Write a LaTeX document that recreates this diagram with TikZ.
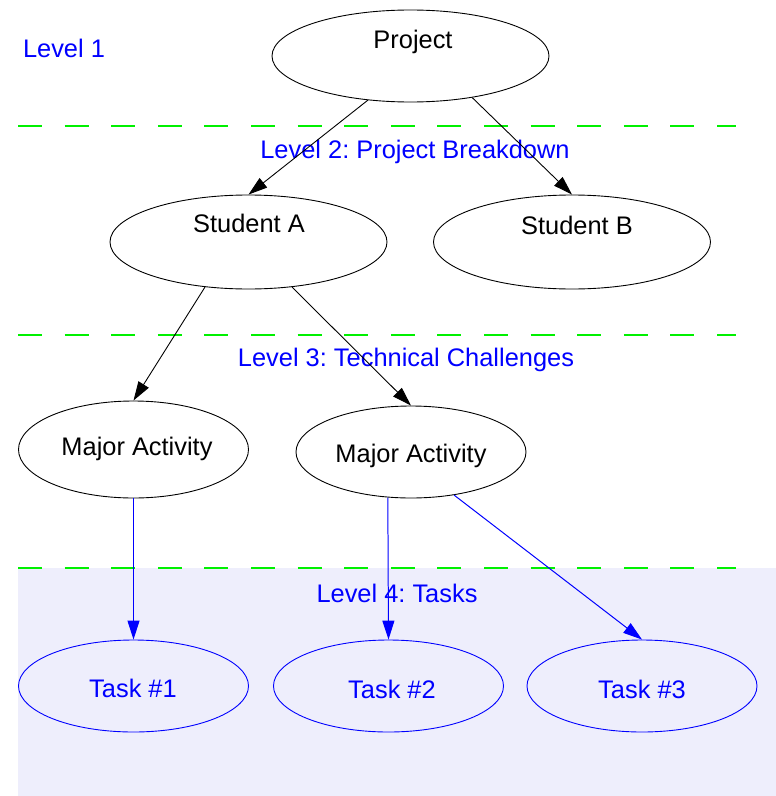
\documentclass[tikz,border=0pt]{standalone}
\usepackage{fontspec}
\setmainfont{Liberation Sans}
\usetikzlibrary{shapes.geometric,arrows.meta}
\definecolor{bandfill}{RGB}{238,238,252}
\definecolor{dashgreen}{RGB}{0,240,0}
\definecolor{lblue}{RGB}{0,0,255}
\frenchspacing
\begin{document}
\begin{tikzpicture}[x=1bp,y=-1bp,
  oval/.style={ellipse,draw,line width=0.9pt,inner sep=0pt,minimum width=#1},
  oval/.default=277bp,
  txt/.style={inner sep=0pt,anchor=base,font=\fontsize{25.5}{29}\selectfont},
  lvl/.style={txt,text=lblue},
  sep/.style={draw=dashgreen,line width=1.3pt,dash pattern=on 24bp off 22.6bp},
  blk/.style={line width=0.9pt,-{Triangle[length=19bp,width=12bp]}},
  blu/.style={blk,color=lblue,line width=1pt}]
\useasboundingbox (0,0) rectangle (776,796);
\fill[bandfill] (18,568) rectangle (776,796);
% separators
\draw[sep] (18,126) -- (736,126);
\draw[sep] (18,335) -- (736,335);
\draw[sep] (18,568) -- (736,568);
% level labels
\node[lvl] (l1) at (64,58) {Level 1};
\node[lvl] (l2) at (415,158) {Level 2: Project Breakdown};
\node[lvl] (l3) at (406,366) {Level 3: Technical Challenges};
\node[lvl] (l4) at (397,602) {Level 4: Tasks};
% ellipses
\node[oval,minimum height=92bp] (p) at (410.5,56) {};
\node[oval,minimum height=94bp] (sa) at (248.5,242) {};
\node[oval,minimum height=94bp] (sb) at (572,242) {};
\node[oval=230bp,minimum height=97bp] (ma1) at (133.5,449.5) {};
\node[oval=230bp,minimum height=92bp] (ma2) at (411,452) {};
\node[oval=230bp,minimum height=92bp,draw=lblue] (t1) at (133.5,686) {};
\node[oval=230bp,minimum height=92bp,draw=lblue] (t2) at (388.5,686) {};
\node[oval=230bp,minimum height=92bp,draw=lblue] (t3) at (642,686) {};
% texts
\node[txt] (pt) at (413,49) {Project};
\node[txt] (sat) at (249,232) {Student A};
\node[txt] (sbt) at (577,234) {Student B};
\node[txt] (ma1t) at (137,455) {Major Activity};
\node[txt] (ma2t) at (411,462) {Major Activity};
\node[txt,text=lblue] (t1t) at (133,697) {Task \#1};
\node[txt,text=lblue] (t2t) at (392,698) {Task \#2};
\node[txt,text=lblue] (t3t) at (642,698) {Task \#3};
% connectors
\draw[blk] (p.226) -- (sa.north);
\draw[blk] (p.326) -- (sb.north);
\draw[blk] (sa.226.5) -- (ma1.north);
\draw[blk] (sa.314.7) -- (ma2.north);
\draw[blu] (ma1.south) -- (t1.north);
\draw[blu] (ma2.243.4) -- (t2.north);
\draw[blu] (ma2.315) -- (t3.north);
\end{tikzpicture}
\end{document}
